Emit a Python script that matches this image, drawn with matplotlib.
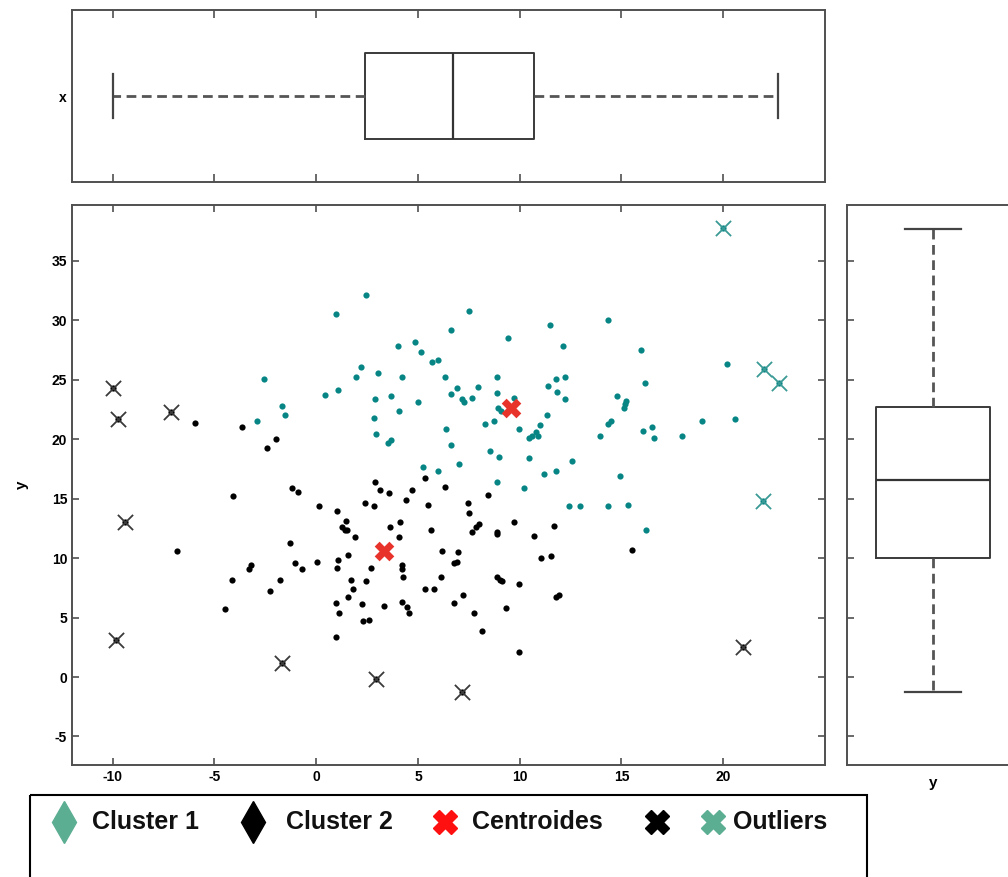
import numpy as np
import matplotlib
matplotlib.use('Agg')
import matplotlib.pyplot as plt
from matplotlib.patches import Rectangle

plt.rcParams['font.family'] = ['Liberation Sans', 'DejaVu Sans']
plt.rcParams['axes.unicode_minus'] = False

# cluster 1 (teal points)
c1_x = [2.47, 0.97, -2.55, 0.41, 1.05, -1.69, -1.54, -2.92, 2.19, 1.95, 3.05, 4.01, 4.21, 4.84,
        5.13, 5.71, 5.99, 6.32, 2.91, 3.69, 5.0, 4.08, 2.83, 2.92, 3.52, 3.69, 6.37, 5.23, 5.99,
        7.53, 6.64, 9.40, 11.48, 12.14, 14.34, 15.95, 20.2, 6.9, 6.64, 7.18, 7.26, 7.66, 7.96,
        8.88, 8.88, 8.93, 9.74, 9.06, 8.31, 8.75, 9.95, 6.64, 7.01, 8.52, 8.96, 8.88, 10.2,
        10.47, 10.59, 10.78, 10.88, 10.99, 11.32, 11.4, 11.76, 12.21, 11.84, 12.21, 10.47, 11.2,
        11.76, 12.58, 13.93, 14.35, 14.5, 14.8, 15.13, 15.18, 15.23, 16.14, 16.06, 16.5, 16.6,
        17.97, 18.95, 20.57, 14.92, 12.4, 12.94, 14.35, 15.3, 16.22]
c1_y = [32.1, 30.5, 25.1, 23.7, 24.1, 22.8, 22.0, 21.5, 26.1, 25.2, 25.6, 27.8, 25.2, 28.2,
        27.3, 26.5, 26.7, 25.2, 23.4, 23.6, 23.1, 22.4, 21.8, 20.4, 19.7, 19.9, 20.9, 17.7, 17.3,
        30.8, 29.2, 28.5, 29.6, 27.8, 30.0, 27.5, 26.3, 24.3, 23.8, 23.4, 23.1, 23.5, 24.4,
        25.2, 23.9, 22.6, 23.5, 22.4, 21.3, 21.5, 20.9, 19.5, 17.9, 19.0, 18.5, 16.4, 15.9,
        20.1, 20.3, 20.6, 20.3, 21.2, 22.0, 24.5, 25.1, 25.2, 24.0, 23.4, 18.4, 17.1,
        17.3, 18.2, 20.3, 21.3, 21.5, 23.6, 22.6, 23.0, 23.2, 24.7, 20.7, 21.0, 20.1,
        20.3, 21.5, 21.7, 16.9, 14.4, 14.4, 14.4, 14.5, 12.4]

# cluster 2 (black points)
c2_x = [-5.94, -3.64, -1.96, -2.40, 2.91, 5.36, 6.32, -1.18, -0.89, 7.47, 7.53, 8.44, 7.66,
        7.83, 8.02, 8.88, 8.88, 9.74, 10.7, 11.69, 6.17, 6.97, 6.77, 6.93, 11.04, 11.56, 6.12,
        8.88, 9.01, 9.12, 9.97, 7.21, 6.79, 7.74, 9.32, 11.76, 11.92, 8.15, 9.97, 15.51,
        -4.08, -6.82, 0.16, 1.01, 2.39, 2.83, 3.12, 3.57, 4.42, 4.71, 5.47, 1.44, 1.25, 1.41,
        1.53, 1.9, 3.64, 4.14, 4.06, 5.63, -1.27, 1.54, 1.09, 1.01, 0.03, -1.06, -0.7, -3.21,
        -3.3, -4.14, -1.79, -2.27, -4.47, 2.71, 4.21, 4.21, 4.25, 1.69, 2.47, 1.82, 1.54, 5.36,
        5.8, 0.96, 1.12, 2.26, 3.33, 4.21, 4.46, 4.58, 2.31, 2.58, 0.96]
c2_y = [21.4, 21.0, 20.0, 19.3, 16.4, 16.7, 16.0, 15.9, 15.6, 14.6, 13.8, 15.3, 12.2,
        12.6, 12.9, 12.2, 12.0, 13.0, 11.9, 12.7, 10.6, 10.5, 9.6, 9.7, 10.0, 10.2, 8.4,
        8.4, 8.2, 8.1, 7.8, 6.9, 6.2, 5.4, 5.8, 6.7, 6.9, 3.9, 2.1, 10.7,
        15.2, 10.6, 14.4, 14.0, 14.6, 14.4, 15.7, 15.5, 14.9, 15.7, 14.5, 13.1, 12.6, 12.4,
        12.4, 11.8, 12.6, 13.0, 11.8, 12.4, 11.3, 10.3, 9.8, 9.2, 9.7, 9.6, 9.1, 9.4,
        9.1, 8.2, 8.2, 7.2, 5.7, 9.2, 9.4, 9.1, 8.4, 8.2, 8.1, 7.4, 6.7, 7.4,
        7.4, 6.2, 5.4, 6.1, 6.0, 6.3, 5.9, 5.4, 4.7, 4.8, 3.4]

# outliers
out_k_x = [-10.0, -9.74, -7.16, -9.39, -9.82, -1.70, 2.92, 7.18, 20.98]
out_k_y = [24.3, 21.7, 22.3, 13.0, 3.1, 1.2, -0.2, -1.3, 2.5]
out_c_x = [19.97, 22.0, 22.76, 21.95]
out_c_y = [37.8, 25.9, 24.7, 14.8]

# centroids
cen_x = [3.33, 9.58]
cen_y = [10.6, 22.6]

# boxplot stats: whislo, q1, med, q3, whishi
x_stats = [-10.0, 2.4, 6.7, 10.7, 22.7]
y_stats = [-1.25, 10.0, 16.6, 22.7, 37.7]

xticks = [-10, -5, 0, 5, 10, 15, 20]
yticks = [-5, 0, 5, 10, 15, 20, 25, 30, 35]
legend_labels = ['Cluster 1', 'Cluster 2', 'Centroides', 'Outliers']

teal = '#078585'
leg_green = '#5cae92'
spine_col = '#505050'
W, H = 1008, 877

fig = plt.figure(figsize=(W / 100, H / 100), dpi=100)


def box(l, t, r, b):
    return [l / W, 1 - b / H, (r - l) / W, (b - t) / H]


ax = fig.add_axes(box(72, 205, 825, 765))
ax_top = fig.add_axes(box(72, 10, 825, 182))
ax_r = fig.add_axes(box(847, 205, 1019, 765))

for a in (ax, ax_top, ax_r):
    for s in a.spines.values():
        s.set_color(spine_col)
        s.set_linewidth(1.4)

# main scatter
ax.scatter(c1_x, c1_y, s=20, marker='o', color=teal, linewidths=0, zorder=3)
ax.scatter(c2_x, c2_y, s=20, marker='o', color='black', linewidths=0, zorder=3)
ax.scatter(out_k_x, out_k_y, s=20, marker='o', color='black', linewidths=0, zorder=3)
ax.scatter(out_k_x, out_k_y, s=120, marker='x', color='#3a3a3a', linewidths=1.3, zorder=4)
ax.scatter(out_c_x, out_c_y, s=20, marker='o', color=teal, linewidths=0, zorder=3)
ax.scatter(out_c_x, out_c_y, s=120, marker='x', color='#3a9a96', linewidths=1.3, zorder=4)
ax.scatter(cen_x, cen_y, s=200, marker='X', color='#e8332b', linewidths=0, zorder=5)

ax.set_xlim(-12, 25)
ax.set_ylim(-7.4, 39.7)
ax.set_xticks(xticks)
ax.set_yticks(yticks)
ax.tick_params(direction='in', length=5, width=1.2, color=spine_col,
               top=True, right=True, labelsize=10)
for lab in ax.get_xticklabels() + ax.get_yticklabels():
    lab.set_fontweight('bold')
ax.set_ylabel('y', fontsize=11, fontweight='bold', labelpad=16)

# boxplot styles
bprops = dict(color='#3a3a3a', linewidth=1.4)
wprops = dict(color='#555555', linewidth=2.0, linestyle=(0, (3.5, 2)))
cprops = dict(color='#444444', linewidth=1.6)
mprops = dict(color='#333333', linewidth=1.6)

xs = dict(whislo=x_stats[0], q1=x_stats[1], med=x_stats[2], q3=x_stats[3],
          whishi=x_stats[4], fliers=[])
ax_top.bxp([xs], positions=[1], widths=0.5, capwidths=0.26, orientation='horizontal',
           showfliers=False, boxprops=bprops, whiskerprops=wprops, capprops=cprops,
           medianprops=mprops)
ax_top.set_xlim(-12, 25)
ax_top.set_ylim(0.5, 1.5)
ax_top.set_xticks(xticks)
ax_top.set_xticklabels([])
ax_top.set_yticks([1])
ax_top.set_yticklabels(['x'], fontsize=10, fontweight='bold')
ax_top.tick_params(axis='x', direction='in', length=6, width=1.2, color=spine_col,
                   top=True, bottom=True)
ax_top.tick_params(axis='y', length=0, pad=4)

ys = dict(whislo=y_stats[0], q1=y_stats[1], med=y_stats[2], q3=y_stats[3],
          whishi=y_stats[4], fliers=[])
ax_r.bxp([ys], positions=[1], widths=0.66, capwidths=0.33, orientation='vertical',
         showfliers=False, boxprops=bprops, whiskerprops=wprops, capprops=cprops,
         medianprops=mprops)
ax_r.set_ylim(-7.4, 39.7)
ax_r.set_xlim(0.5, 1.5)
ax_r.set_yticks(yticks)
ax_r.set_yticklabels([])
ax_r.set_xticks([1])
ax_r.set_xticklabels(['y'], fontsize=11, fontweight='bold')
ax_r.tick_params(axis='y', direction='in', length=5, width=1.2, color=spine_col,
                 left=True, right=True)
ax_r.tick_params(axis='x', length=0, pad=8)

# legend drawn on an overlay in pixel units
lg = fig.add_axes([0, 0, 1, 1], facecolor='none')
lg.set_xlim(0, W)
lg.set_ylim(H, 0)
lg.axis('off')
lg.add_patch(Rectangle((30, 795), 837, 120, fill=False, edgecolor='black', linewidth=1.5))
ly = 822
lg.plot([64], [ly], marker='d', markersize=21, color=leg_green, linestyle='none')
lg.plot([253], [ly], marker='d', markersize=21, color='black', linestyle='none')
lg.plot([445], [ly], marker='X', markersize=17, color='#ff1010', linestyle='none')
lg.plot([657], [ly], marker='X', markersize=17, color='black', linestyle='none')
lg.plot([713], [ly], marker='X', markersize=17, color=leg_green, linestyle='none')
for xt, t in zip([92, 286, 472, 733], legend_labels):
    lg.text(xt, ly, t, fontsize=18, fontweight='bold', va='center', ha='left',
            color='#111111')

fig.savefig('out.png', dpi=100)
